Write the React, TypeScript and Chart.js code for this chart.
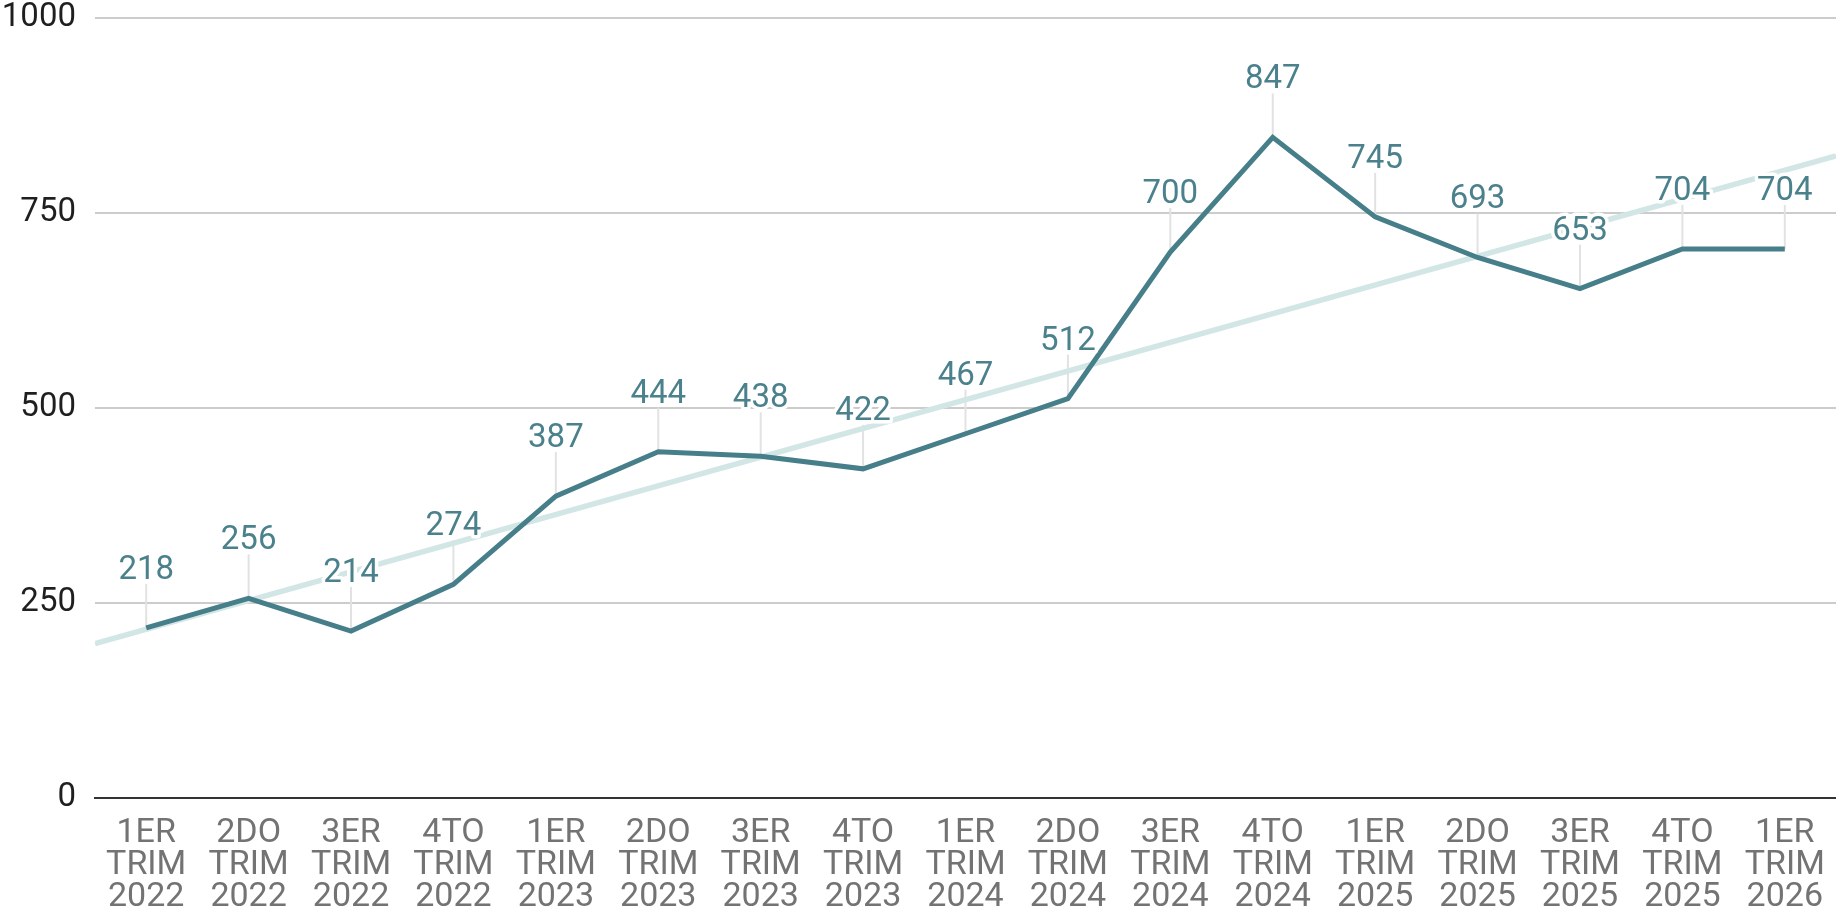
import React, { useEffect, useRef } from "react";
import { Chart, registerables } from "chart.js";

Chart.register(...registerables);

const quarters = ["1ER", "2DO", "3ER", "4TO", "1ER", "2DO", "3ER", "4TO", "1ER", "2DO", "3ER", "4TO", "1ER", "2DO", "3ER", "4TO", "1ER"];
const years = ["2022", "2022", "2022", "2022", "2023", "2023", "2023", "2023", "2024", "2024", "2024", "2024", "2025", "2025", "2025", "2025", "2026"];
const values = [218, 256, 214, 274, 387, 444, 438, 422, 467, 512, 700, 847, 745, 693, 653, 704, 704];
const yTicks = [0, 250, 500, 750, 1000];

const LINE_COLOR = "#467f8a";
const LABEL_COLOR = "#4b818c";
const TREND_COLOR = "#d3e6e6";
const FONT = "Roboto";

function linearFit(ys: number[]) {
  const n = ys.length;
  const mx = (n - 1) / 2;
  const my = ys.reduce((a, b) => a + b, 0) / n;
  let sxy = 0;
  let sxx = 0;
  ys.forEach((y, i) => {
    sxy += (i - mx) * (y - my);
    sxx += (i - mx) * (i - mx);
  });
  const slope = sxy / sxx;
  return { slope, intercept: my - slope * mx };
}

export default function App() {
  const ref = useRef<HTMLCanvasElement>(null);

  useEffect(() => {
    const canvas = ref.current;
    if (!canvas) return;
    const labels = quarters.map((q, i) => [q, "TRIM", years[i]]);
    const fit = linearFit(values);
    const x0 = -0.5;
    const x1 = values.length - 0.5;
    const trend = [
      { x: x0, y: fit.intercept + fit.slope * x0 },
      { x: x1, y: fit.intercept + fit.slope * x1 },
    ];

    const labelPlugin = {
      id: "valueLabels",
      beforeDatasetsDraw(chart: any) {
        const meta = chart.getDatasetMeta(1);
        const ctx = chart.ctx;
        ctx.save();
        ctx.strokeStyle = "#e2e2e2";
        ctx.lineWidth = 2;
        meta.data.forEach((el: any) => {
          ctx.beginPath();
          ctx.moveTo(el.x, el.y - 44);
          ctx.lineTo(el.x, el.y);
          ctx.stroke();
        });
        ctx.restore();
      },
      afterDatasetsDraw(chart: any) {
        const meta = chart.getDatasetMeta(1);
        const ctx = chart.ctx;
        ctx.save();
        ctx.font = `33px ${FONT}`;
        ctx.textAlign = "center";
        ctx.textBaseline = "alphabetic";
        ctx.lineJoin = "round";
        meta.data.forEach((el: any, i: number) => {
          const txt = String(values[i]);
          const y = el.y - 49;
          ctx.strokeStyle = "#ffffff";
          ctx.lineWidth = 7;
          ctx.strokeText(txt, el.x, y);
          ctx.fillStyle = LABEL_COLOR;
          ctx.fillText(txt, el.x, y);
        });
        ctx.restore();
      },
    };

    const chart = new Chart(canvas, {
      type: "line",
      data: {
        labels,
        datasets: [
          {
            label: "Tendencia",
            data: trend as any,
            xAxisID: "xt",
            borderColor: TREND_COLOR,
            borderWidth: 5.5,
            pointRadius: 0,
            order: 2,
          },
          {
            label: "Valor",
            data: values,
            xAxisID: "x",
            borderColor: LINE_COLOR,
            borderWidth: 5,
            pointRadius: 0,
            tension: 0,
            order: 1,
          },
        ],
      },
      options: {
        responsive: false,
        animation: false,
        layout: { padding: { top: 0, right: 0, bottom: 0, left: 0 } },
        plugins: {
          legend: { display: false },
          tooltip: { enabled: false },
          title: { display: false },
        },
        scales: {
          x: {
            type: "category",
            offset: true,
            grid: { display: false, drawTicks: false },
            border: { display: true, color: "#333333", width: 2 },
            ticks: {
              autoSkip: false,
              maxRotation: 0,
              minRotation: 0,
              padding: 20,
              color: "#737373",
              font: { family: FONT, size: 34, lineHeight: 0.93 },
            },
            afterFit(scale: any) {
              scale.height = 116;
              scale.paddingLeft = 0;
              scale.paddingRight = 0;
            },
          },
          xt: {
            type: "linear",
            display: false,
            min: x0,
            max: x1,
          },
          y: {
            min: yTicks[0],
            max: yTicks[yTicks.length - 1],
            afterBuildTicks(scale: any) {
              scale.ticks = yTicks.map((v) => ({ value: v }));
            },
            grid: {
              color: (c: any) => (c.tick && c.tick.value === 0 ? "rgba(0,0,0,0)" : "#cccccc"),
              lineWidth: 2,
              drawTicks: false,
            },
            border: { display: false },
            ticks: {
              padding: 19,
              color: "#1f1f1f",
              font: { family: FONT, size: 33 },
              callback: (v: any) => String(v),
            },
            afterFit(scale: any) {
              scale.width = 95;
              scale.paddingTop = 18;
              scale.paddingBottom = 0;
            },
          },
        },
      },
      plugins: [labelPlugin],
    });
    return () => chart.destroy();
  }, []);

  return (
    <div style={{ position: "fixed", left: 0, top: 0, width: 1836, height: 914, background: "#fff" }}>
      <canvas ref={ref} width={1836} height={914} style={{ display: "block" }} />
    </div>
  );
}
